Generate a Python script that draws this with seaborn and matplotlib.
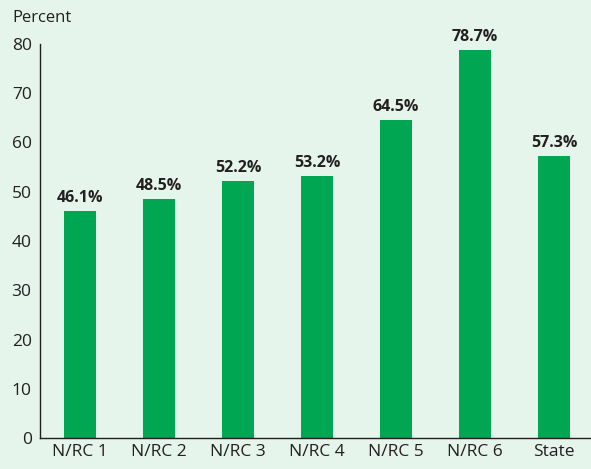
import matplotlib
matplotlib.use("Agg")
import matplotlib.pyplot as plt
import seaborn as sns
import pandas as pd

categories = ["N/RC 1", "N/RC 2", "N/RC 3", "N/RC 4", "N/RC 5", "N/RC 6", "State"]
values = [46.1, 48.5, 52.2, 53.2, 64.5, 78.7, 57.3]
yticks = [0, 10, 20, 30, 40, 50, 60, 70, 80]

sns.set_theme(style="white")
plt.rcParams['font.family'] = ['Open Sans', 'DejaVu Sans']

bg = "#e5f5ec"
green = "#00a651"
df = pd.DataFrame({"cat": categories, "val": values})

fig = plt.figure(figsize=(5.91, 4.69), dpi=100, facecolor=bg)
ax = fig.add_axes([40/591, 1-438/469, 1-40/591, (438-44)/469])
ax.set_facecolor(bg)
sns.barplot(data=df, x="cat", y="val", color=green, saturation=1, width=0.405,
            linewidth=0, edgecolor="none", ax=ax)
ax.set_xlim(-0.506, 6.468)
ax.set_ylim(0, 80)
ax.set_yticks(yticks)
ax.set_yticklabels([str(t) for t in yticks], fontsize=12.5, color="#231f20")
ax.tick_params(axis='x', labelsize=12.5, colors="#231f20", length=0, pad=4)
ax.tick_params(axis='y', length=0, pad=6)
ax.set_xlabel("")
ax.set_ylabel("")
for s in ["top", "right"]:
    ax.spines[s].set_visible(False)
for s in ["left", "bottom"]:
    ax.spines[s].set_color("#231f20")
    ax.spines[s].set_linewidth(1.0)
for i, v in enumerate(values):
    ax.text(i, v + 1.0, f"{v:.1f}%", ha="center", va="bottom", fontsize=11.5, fontweight="bold", color="#231f20")
fig.text(12/591, 1-18/469, "Percent", fontsize=12, color="#231f20", va="center", ha="left")
fig.savefig("out.png", dpi=100, facecolor=bg)
